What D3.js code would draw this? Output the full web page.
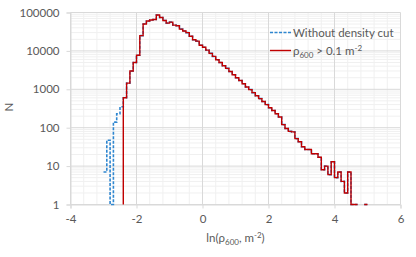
<!DOCTYPE html>
<html>
<head>
<meta charset="utf-8">
<script src="https://cdn.jsdelivr.net/npm/d3@7"></script>
<style>
  body { margin: 0; background: #fff; }
  svg { display: block; font-family: Lato, "Open Sans", sans-serif; }
</style>
</head>
<body>
<svg id="chart" width="416" height="257"></svg>
<script>
'use strict';

// histogram bins of width 0.1 in ln(rho600)
const binWidth = 0.1;
const cutStart = -2.4;      // first bin kept by the density cut
const lowStart = -3.0;      // first bin without the cut

// bins -3.0 .. -2.5 only exist without the density cut (0 = empty bin)
const lowBins = [7, 47, 0, 140, 230, 350];

// bins -2.4 .. 4.9, shared by both series (null = nothing drawn)
const withCut = [
  600, 1450, 3000, 5000, 7700, 25000, 50000, 60000, 64000, 66000,
  86000, 74000, 62000, 53000, 56000, 47000, 45000, 37000, 33000, 30000,
  24000, 19500, 18000, 14000, 12500, 10500, 8600, 7200, 5900, 5000,
  4100, 3500, 2900, 2400, 2000, 1700, 1400, 1150, 980, 820,
  680, 570, 480, 400, 330, 280, 230, 190, 120, 95,
  80, 78, 52, 43, 32, 27, 27, 21, 21, 17,
  8, 10, 6, 13, 5, 7, 4, 2, 7, 1,
  1, null, null, 1
];
const withoutCut = lowBins.concat(withCut);

const xTicks = [-4, -2, 0, 2, 4, 6];
const yTicks = [1, 10, 100, 1000, 10000, 100000];
const legendLabel = 'Without density cut';

const margin = { top: 12.5, right: 15.5, bottom: 52.5, left: 70.5 };
const width = 416 - margin.left - margin.right;
const height = 257 - margin.top - margin.bottom;

const x = d3.scaleLinear().domain([-4, 6]).range([0, width]);
const y = d3.scaleLog().domain([1, 100000]).range([height, 0]);

const svg = d3.select('#chart');
const g = svg.append('g').attr('transform', `translate(${margin.left},${margin.top})`);

// minor grid
const xMinor = d3.range(-40, 61, 4).map((d) => d / 10).filter((d) => !xTicks.includes(d));
const yMinor = [];
yTicks.slice(0, -1).forEach((t) => { for (let k = 2; k < 10; k++) yMinor.push(t * k); });

g.append('g').selectAll('line').data(xMinor).join('line')
  .attr('x1', (d) => x(d)).attr('x2', (d) => x(d))
  .attr('y1', 0).attr('y2', height)
  .attr('stroke', '#f0f0f0').attr('stroke-width', 1);
g.append('g').selectAll('line').data(yMinor).join('line')
  .attr('x1', 0).attr('x2', width)
  .attr('y1', (d) => y(d)).attr('y2', (d) => y(d))
  .attr('stroke', '#f0f0f0').attr('stroke-width', 1);

// major grid
g.append('g').selectAll('line').data(xTicks).join('line')
  .attr('x1', (d) => x(d)).attr('x2', (d) => x(d))
  .attr('y1', 0).attr('y2', height)
  .attr('stroke', '#d9d9d9').attr('stroke-width', 1);
g.append('g').selectAll('line').data(yTicks).join('line')
  .attr('x1', 0).attr('x2', width)
  .attr('y1', (d) => y(d)).attr('y2', (d) => y(d))
  .attr('stroke', '#d9d9d9').attr('stroke-width', 1);

// axes
const xAxis = g.append('g').attr('transform', `translate(0,${height})`)
  .call(d3.axisBottom(x).tickValues(xTicks).tickSize(4).tickPadding(6).tickFormat((d) => d < 0 ? '-' + (-d) : d));
const yAxis = g.append('g')
  .call(d3.axisLeft(y).tickValues(yTicks).tickSize(4).tickPadding(7).tickFormat(d3.format('d')));
[xAxis, yAxis].forEach((a) => {
  a.select('.domain').attr('stroke', '#d9d9d9');
  a.selectAll('.tick line').attr('stroke', '#d9d9d9');
  a.selectAll('.tick text').attr('fill', '#595959').style('font-size', '11.5px').style('font-family', 'Lato, sans-serif');
});

// step points: each bin gives its left and right edge at its count
function steps(values, start, leadIn) {
  const pts = [];
  if (leadIn) pts.push({ x: start, v: 1 });
  values.forEach((v, i) => {
    const lo = start + i * binWidth;
    pts.push({ x: lo, v: v });
    pts.push({ x: lo + binWidth, v: v });
  });
  return pts;
}

const line = d3.line()
  .defined((d) => d.v !== null)
  .x((d) => x(d.x))
  .y((d) => y(Math.max(1, d.v)));

g.append('path')
  .datum(steps(withoutCut, lowStart, false))
  .attr('d', line)
  .attr('fill', 'none')
  .attr('stroke', '#2e86d0')
  .attr('stroke-width', 1.6)
  .attr('stroke-dasharray', '3,1.5');

g.append('path')
  .datum(steps(withCut, cutStart, true))
  .attr('d', line)
  .attr('fill', 'none')
  .attr('stroke', '#c00000')
  .attr('stroke-width', 1.4);

// axis titles
svg.append('text')
  .attr('transform', 'translate(13,107) rotate(-90)')
  .attr('text-anchor', 'middle')
  .attr('fill', '#595959').style('font-size', '11.5px')
  .text('N');

const xt = svg.append('text')
  .attr('x', margin.left + width / 2).attr('y', 242)
  .attr('text-anchor', 'middle')
  .attr('fill', '#595959').style('font-size', '11.5px');
xt.append('tspan').text('ln(ρ');
xt.append('tspan').attr('dy', 3).style('font-size', '8px').text('600');
xt.append('tspan').attr('dy', -3).text(', m');
xt.append('tspan').attr('dy', -4).style('font-size', '8px').text('-2');
xt.append('tspan').attr('dy', 4).text(')');

// legend
const lg = svg.append('g');
lg.append('line').attr('x1', 270).attr('x2', 291).attr('y1', 32.5).attr('y2', 32.5)
  .attr('stroke', '#2e86d0').attr('stroke-width', 1.6).attr('stroke-dasharray', '3,1.5');
lg.append('text').attr('x', 293).attr('y', 36.5)
  .attr('fill', '#595959').style('font-size', '11.5px').text(legendLabel);
lg.append('line').attr('x1', 270).attr('x2', 291).attr('y1', 50.5).attr('y2', 50.5)
  .attr('stroke', '#c00000').attr('stroke-width', 1.4);
const lt = lg.append('text').attr('x', 293).attr('y', 54.5)
  .attr('fill', '#595959').style('font-size', '11.5px');
lt.append('tspan').text('ρ');
lt.append('tspan').attr('dy', 3).style('font-size', '8px').text('600');
lt.append('tspan').attr('dy', -3).text(' > 0.1 m');
lt.append('tspan').attr('dy', -4).style('font-size', '8px').text('-2');
</script>
</body>
</html>
